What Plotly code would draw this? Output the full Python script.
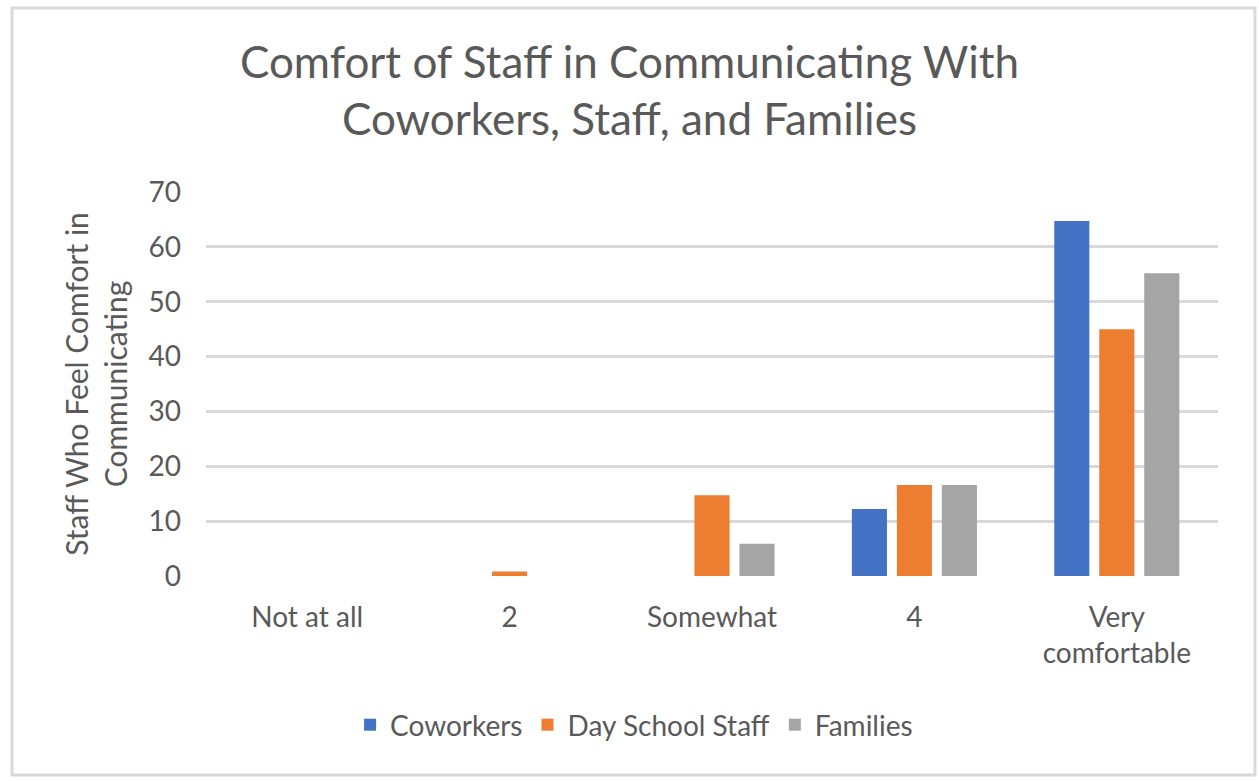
import plotly.graph_objects as go

# Survey responses (share of staff) by comfort level
categories = ["Not at all", "2", "Somewhat", "4", "Very<br>comfortable"]
coworkers = [0, 0, 0, 12.2, 64.7]
day_school_staff = [0, 0.8, 14.7, 16.6, 45.0]
families = [0, 0, 5.9, 16.6, 55.2]

series = [
    ("Coworkers", coworkers, "#4472C4"),
    ("Day School Staff", day_school_staff, "#ED7D31"),
    ("Families", families, "#A5A5A5"),
]

text_color = "#595959"
font_family = "Lato, 'Open Sans', sans-serif"

fig = go.Figure()
for name, values, color in series:
    fig.add_trace(go.Bar(
        name=name,
        x=categories,
        y=values,
        marker=dict(color=color, line=dict(width=0)),
    ))

W, H = 1259, 782
ml, mr, mt, mb = 206, 41, 192, 206
pw, ph = W - ml - mr, H - mt - mb

# Light grey frame around the whole chart, expressed in paper units
def px_to_paper_x(px):
    return (px - ml) / pw

def px_to_paper_y(py):
    return (H - mb - py) / ph

fig.add_shape(
    type="rect", xref="paper", yref="paper",
    x0=px_to_paper_x(12), x1=px_to_paper_x(1255),
    y0=px_to_paper_y(775), y1=px_to_paper_y(8),
    line=dict(color="#D9D9D9", width=3),
    fillcolor="rgba(0,0,0,0)", layer="below",
)

fig.update_layout(
    width=W, height=H,
    margin=dict(l=ml, r=mr, t=mt, b=mb, pad=0),
    paper_bgcolor="white",
    plot_bgcolor="white",
    font=dict(family=font_family, color=text_color, size=28),
    title=dict(
        text="Comfort of Staff in Communicating With<br>Coworkers, Staff, and Families",
        x=0.5, xanchor="center",
        y=1 - 78 / H, yanchor="middle",
        font=dict(size=44, color=text_color, family=font_family),
    ),
    barmode="group",
    bargap=0.333,
    bargroupgap=0.22,
    showlegend=True,
    legend=dict(
        orientation="h",
        x=0.423, xanchor="center",
        y=px_to_paper_y(725), yanchor="middle",
        font=dict(size=28, color=text_color),
        itemsizing="constant",
        itemwidth=30,
        traceorder="normal",
    ),
    xaxis=dict(
        showline=False,
        showgrid=False,
        ticks="",
        ticklabelstandoff=22,
        tickfont=dict(size=28, color=text_color),
    ),
    yaxis=dict(
        range=[0, 70],
        dtick=10,
        showgrid=True,
        gridcolor="#D9D9D9",
        gridwidth=2.5,
        zeroline=False,
        showline=False,
        ticks="",
        ticklabelstandoff=24,
        tickfont=dict(size=28, color=text_color),
        title=dict(
            text="Staff Who Feel Comfort in<br>Communicating",
            font=dict(size=30, color=text_color),
            standoff=12,
        ),
    ),
)

fig.write_html("out.html")
